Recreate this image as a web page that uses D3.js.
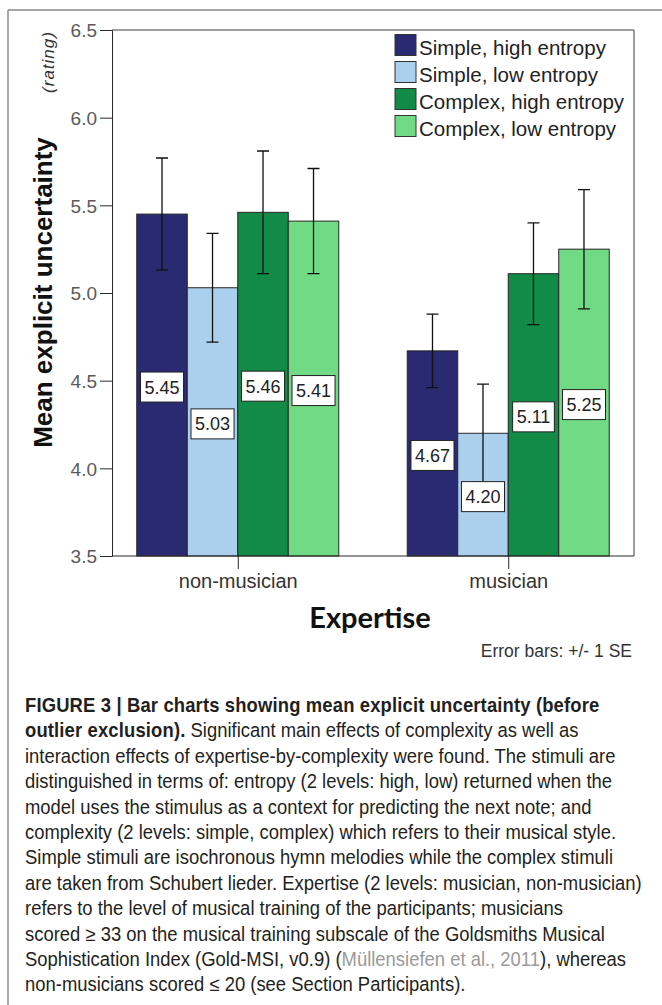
<!DOCTYPE html>
<html>
<head>
<meta charset="utf-8">
<script src="https://cdn.jsdelivr.net/npm/d3@7"></script>
<style>
  html, body { margin: 0; padding: 0; background: #fff; }
  svg { display: block; }
</style>
</head>
<body>
<svg id="chart" width="662" height="1005"></svg>
<script>
// ---------- data ----------
const categories = ["non-musician", "musician"];
const series = ["Simple, high entropy", "Simple, low entropy", "Complex, high entropy", "Complex, low entropy"];
const nonMusicianMeans = [5.45, 5.03, 5.46, 5.41];
const musicianMeans = [4.67, 4.20, 5.11, 5.25];
const nonMusicianSE = [0.32, 0.31, 0.35, 0.30];
const musicianSE = [0.21, 0.28, 0.29, 0.34];
const yTicks = [3.5, 4.0, 4.5, 5.0, 5.5, 6.0, 6.5];
const colors = ["#2a2a72", "#abd0ee", "#118b45", "#70db84"];
const captionLines = [
  [{t: "FIGURE 3 | Bar charts showing mean explicit uncertainty (before", b: true}],
  [{t: "outlier exclusion).", b: true}, {t: " Significant main effects of complexity as well as"}],
  [{t: "interaction effects of expertise-by-complexity were found. The stimuli are"}],
  [{t: "distinguished in terms of: entropy (2 levels: high, low) returned when the"}],
  [{t: "model uses the stimulus as a context for predicting the next note; and"}],
  [{t: "complexity (2 levels: simple, complex) which refers to their musical style."}],
  [{t: "Simple stimuli are isochronous hymn melodies while the complex stimuli"}],
  [{t: "are taken from Schubert lieder. Expertise (2 levels: musician, non-musician)"}],
  [{t: "refers to the level of musical training of the participants; musicians"}],
  [{t: "scored \u2265 33 on the musical training subscale of the Goldsmiths Musical"}],
  [{t: "Sophistication Index (Gold-MSI, v0.9) ("}, {t: "M\u00fcllensiefen et al., 2011", g: true}, {t: "), whereas"}],
  [{t: "non-musicians scored \u2264 20 (see Section Participants)."}]
];

const table = [];
categories.forEach((c, ci) => {
  const means = ci === 0 ? nonMusicianMeans : musicianMeans;
  const se = ci === 0 ? nonMusicianSE : musicianSE;
  series.forEach((s, si) => table.push({cat: c, ser: s, si, v: means[si], se: se[si]}));
});

// ---------- layout ----------
const svg = d3.select("#chart");
const L = 112, R = 634, T = 30, B = 556;
const font = "'Liberation Sans', Arial, sans-serif";

// outer frame
svg.append("line").attr("x1", 8).attr("x2", 662).attr("y1", 10).attr("y2", 10)
  .attr("stroke", "#8a8a8a").attr("stroke-width", 1.5);
svg.append("line").attr("x1", 8).attr("x2", 8).attr("y1", 10).attr("y2", 1005)
  .attr("stroke", "#8a8a8a").attr("stroke-width", 1.5);

const y = d3.scaleLinear().domain([3.5, 6.5]).range([B, T]);
const x0 = d3.scalePoint().domain(categories).range([L, R]).padding(0.465);
const x1 = d3.scaleBand().domain(series).range([-101, 101]);
const color = d3.scaleOrdinal().domain(series).range(colors);

// plot frame (top & right)
svg.append("path")
  .attr("d", `M${L},${T}H${R}V${B}`)
  .attr("fill", "none").attr("stroke", "#3a3a3a").attr("stroke-width", 1);

// bars
svg.append("g").selectAll("rect").data(table).join("rect")
  .attr("x", d => x0(d.cat) + x1(d.ser))
  .attr("y", d => y(d.v))
  .attr("width", x1.bandwidth())
  .attr("height", d => B - y(d.v))
  .attr("fill", d => color(d.ser))
  .attr("stroke", "#262626").attr("stroke-width", 1);

// y axis
const yAxis = svg.append("g").attr("transform", `translate(${L},0)`)
  .call(d3.axisLeft(y).tickValues(yTicks).tickFormat(d3.format(".1f")).tickSize(12).tickPadding(3));
yAxis.select(".domain").attr("stroke", "#2a2a2a");
yAxis.selectAll(".tick line").attr("stroke", "#2a2a2a");
yAxis.selectAll(".tick text").attr("font-family", font).attr("font-size", 19)
  .attr("fill", "#5a5a5a").attr("dy", "0.36em");

// x axis
const xAxis = svg.append("g").attr("transform", `translate(0,${B})`)
  .call(d3.axisBottom(x0).tickSize(13).tickPadding(5));
xAxis.select(".domain").attr("stroke", "#2a2a2a").attr("d", `M${L},0H${R}`);
xAxis.selectAll(".tick line").attr("stroke", "#2a2a2a");
xAxis.selectAll(".tick text").attr("font-family", font).attr("font-size", 20)
  .attr("fill", "#333");

// error bars
const eg = svg.append("g").attr("stroke", "#111").attr("stroke-width", 1.3).attr("fill", "none");
table.forEach(d => {
  const cx = x0(d.cat) + x1(d.ser) + x1.bandwidth() / 2;
  const yt = y(d.v + d.se), yb = y(d.v - d.se);
  eg.append("path").attr("d", `M${cx},${yt}V${yb}M${cx - 6},${yt}H${cx + 6}M${cx - 6},${yb}H${cx + 6}`);
});

// value labels
const lg = svg.append("g");
table.forEach(d => {
  const cx = x0(d.cat) + x1(d.ser) + x1.bandwidth() / 2;
  const cy = (y(d.v) + B) / 2 + 2;
  const g = lg.append("g");
  const rect = g.append("rect").attr("fill", "#fff").attr("stroke", "#222").attr("stroke-width", 1);
  const t = g.append("text").attr("x", cx).attr("y", cy).attr("dy", "0.36em")
    .attr("text-anchor", "middle").attr("font-family", font).attr("font-size", 18)
    .attr("fill", "#222").text(d3.format(".2f")(d.v));
  const w = t.node().getComputedTextLength() + 8;
  rect.attr("x", cx - w / 2).attr("y", cy - 15).attr("width", w).attr("height", 30);
});

// legend
const leg = svg.append("g");
series.forEach((s, i) => {
  const yy = 34.5 + i * 27;
  leg.append("rect").attr("x", 395).attr("y", yy).attr("width", 21).attr("height", 21)
    .attr("fill", color(s)).attr("stroke", "#333").attr("stroke-width", 1);
  leg.append("text").attr("x", 419).attr("y", yy + 20).attr("font-family", font)
    .attr("font-size", 20.5).attr("fill", "#222").text(s);
});

// axis titles
svg.append("text").attr("transform", `translate(52,292.5) rotate(-90)`)
  .attr("text-anchor", "middle").attr("font-family", font).attr("font-weight", "bold")
  .attr("font-size", 26).attr("fill", "#111").text("Mean explicit uncertainty");
svg.append("text").attr("transform", `translate(54,62) rotate(-90)`)
  .attr("text-anchor", "middle").attr("font-family", font).attr("font-style", "italic")
  .attr("font-size", 17).attr("letter-spacing", 1).attr("fill", "#333").text("(rating)");
svg.append("text").attr("x", 370).attr("y", 628).attr("text-anchor", "middle")
  .attr("font-family", "Lato, 'Open Sans', sans-serif").attr("font-weight", "bold")
  .attr("font-size", 29).attr("fill", "#111").text("Expertise");
svg.append("text").attr("x", 632).attr("y", 657).attr("text-anchor", "end")
  .attr("font-family", font).attr("font-size", 17.5).attr("fill", "#333").text("Error bars: +/- 1 SE");

// caption: Liberation Sans horizontally condensed to mimic a narrow Helvetica
const cap = svg.append("g").attr("font-family", font).attr("fill", "#231f20");
const capSize = 19.5;
const probe = cap.append("text").attr("font-size", capSize).text(captionLines[7][0].t);
const sx = 617 / probe.node().getComputedTextLength();
probe.remove();
captionLines.forEach((parts, i) => {
  const t = cap.append("text")
    .attr("transform", `translate(25,${712 + i * 25.4}) scale(${sx},1)`)
    .attr("font-size", capSize);
  parts.forEach(p => {
    const ts = t.append("tspan").text(p.t);
    if (p.b) ts.attr("font-weight", "bold").attr("letter-spacing", 0.15);
    if (p.g) ts.attr("fill", "#9a9a9a");
  });
});
</script>
</body>
</html>
